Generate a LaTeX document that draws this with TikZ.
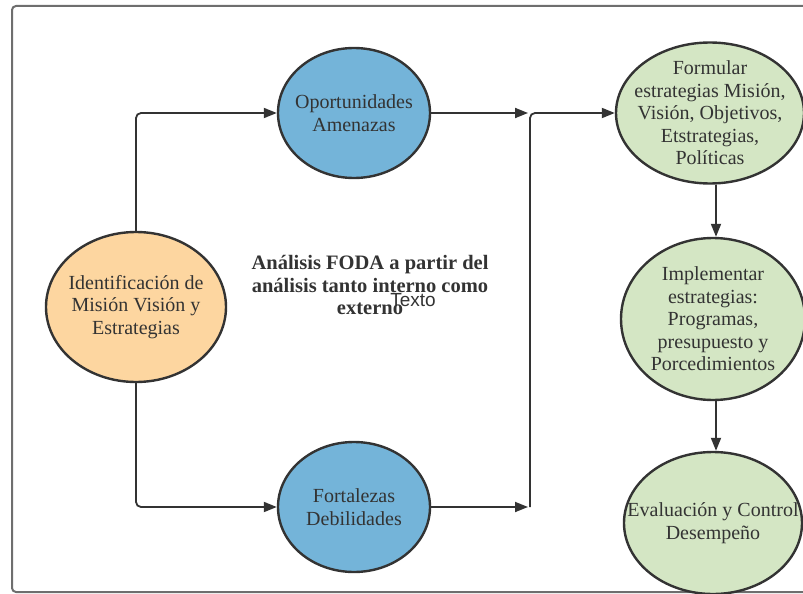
\documentclass[tikz,border=0pt]{standalone}
\usepackage{fontspec}
\setmainfont{Liberation Serif}
\newfontfamily\labelsans{Liberation Sans}
\usetikzlibrary{arrows.meta,shapes.geometric}

\definecolor{inkc}{HTML}{333333}
\definecolor{framec}{HTML}{6E6E6E}
\definecolor{orangefill}{HTML}{FDD6A0}
\definecolor{bluefill}{HTML}{74B4D9}
\definecolor{greenfill}{HTML}{D4E6C4}

\tikzset{
  bubble/.style={ellipse, draw=inkc, line width=2.4pt, inner sep=0pt},
  bubbletext/.style={align=center, text=inkc, inner sep=0pt,
    font=\fontsize{20}{22.5}\selectfont},
  conn/.style={draw=inkc, line width=1.8pt, rounded corners=5pt,
    -{Triangle[length=13pt,width=10pt]}}
}

\begin{document}
\begin{tikzpicture}[x=1pt,y=-1pt]
\useasboundingbox (0,0) rectangle (803,594);
\clip (0,0) rectangle (803,594);

% outer frame
\draw[framec, line width=2pt, rounded corners=4pt]
  (840,6) -- (12,6) -- (12,592) -- (840,592);

% ellipses; the text sits in a centred label so it does not widen the shape
\node[bubble, fill=orangefill, minimum width=180pt, minimum height=150pt,
  label={[bubbletext, name=idnt]center:Identificación de\\Misión Visión y\\Estrategias}]
  (idn) at (136,307) {};
\node[bubble, fill=bluefill, minimum width=152pt, minimum height=130pt,
  label={[bubbletext, name=oppt]center:Oportunidades\\Amenazas}]
  (opp) at (354,113) {};
\node[bubble, fill=bluefill, minimum width=152pt, minimum height=130pt,
  label={[bubbletext, name=fortt]center:Fortalezas\\Debilidades}]
  (fort) at (354,507) {};
\node[bubble, fill=greenfill, minimum width=188pt, minimum height=141pt,
  label={[bubbletext, name=formt]center:Formular\\estrategias Misión,\\Visión, Objetivos,\\Etstrategias,\\Políticas}]
  (form) at (710,113) {};
\node[bubble, fill=greenfill, minimum width=184pt, minimum height=162pt,
  label={[bubbletext, name=implt]center:Implementar\\estrategias:\\Programas,\\presupuesto y\\Porcedimientos}]
  (impl) at (713,319) {};
\node[bubble, fill=greenfill, minimum width=178pt, minimum height=142pt,
  label={[bubbletext, name=evalt]center:Evaluación y Control\\Desempeño}]
  (eval) at (713,523) {};

% central caption
\node[align=center, text=inkc, font=\bfseries\fontsize{20.5}{22.5}\selectfont]
  (foda) at (370,285) {Análisis FODA a partir del\\análisis tanto interno como\\externo};
\node[text=inkc, font=\labelsans\fontsize{19}{20}\selectfont]
  (texto) at (413,300) {Texto};

% junction points
\coordinate (jtop) at (528,113);
\coordinate (jbot) at (528,507);
\coordinate (jbar) at (530,507);

% connectors
\draw[conn] (idn.north) |- (opp.west);
\draw[conn] (idn.south) |- (fort.west);
\draw[conn] (opp.east) -- (jtop);
\draw[conn] (fort.east) -- (jbot);
\draw[conn] (jbar) |- (form.west);
\draw[conn] (form.south -| 716,0) -- (impl.north -| 716,0);
\draw[conn] (impl.south -| 716,0) -- (eval.north -| 716,0);
\end{tikzpicture}
\end{document}
